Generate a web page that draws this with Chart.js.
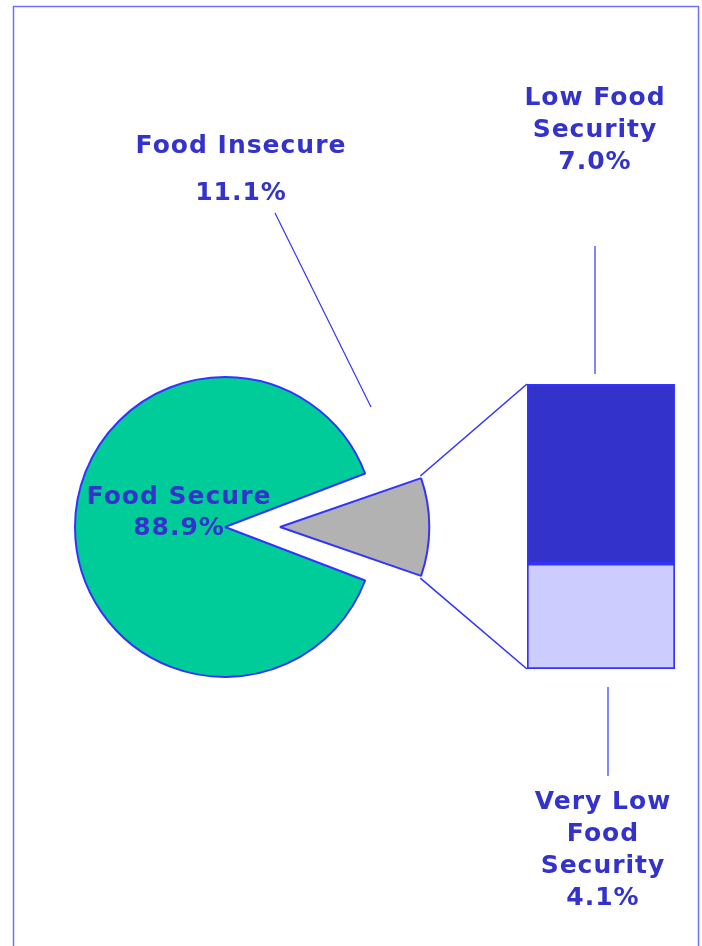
<!DOCTYPE html>
<html>
<head>
<meta charset="utf-8">
<script src="https://cdn.jsdelivr.net/npm/chart.js@4.4.1/dist/chart.umd.min.js"></script>
<style>
  body { margin: 0; background: #fff; }
  #wrap { position: relative; width: 702px; height: 946px; }
  #wrap canvas { position: absolute; left: 0; top: 0; }
</style>
</head>
<body>
<div id="wrap">
  <canvas id="pieChart" width="702" height="946"></canvas>
  <canvas id="barChart" width="702" height="946"></canvas>
</div>
<script>
const pieLabels = ['Food Secure', 'Food Insecure'];
const pieValues = [88.9, 11.1];
const pieColors = ['#00CC99', '#B2B2B2'];

const barLabels = ['Very Low Food Security', 'Low Food Security'];
const barValues = [4.1, 7.0];
const barColors = ['#CCCCFF', '#3333CC'];

const textColor = '#3333CC';
const lineColor = '#3333FF';
const font = "bold 25px 'DejaVu Sans', Verdana, sans-serif";

function pct(v) { return v.toFixed(1) + '%'; }

function drawLines(ctx, lines, x, y, step) {
    ctx.save();
    ctx.font = font;
    ctx.fillStyle = textColor;
    ctx.textAlign = 'center';
    ctx.textBaseline = 'middle';
    ctx.letterSpacing = '1px';
    lines.forEach((t, i) => ctx.fillText(t, x, y + i * step));
    ctx.restore();
}

function line(ctx, x1, y1, x2, y2, w) {
    ctx.save();
    ctx.strokeStyle = lineColor;
    ctx.lineWidth = w || 1;
    ctx.beginPath();
    ctx.moveTo(x1, y1);
    ctx.lineTo(x2, y2);
    ctx.stroke();
    ctx.restore();
}

const total = pieValues.reduce((a, b) => a + b, 0);
// turn the pie so the small slice points right
const rotation = 90 + pieValues[1] / total * 180;

const pieText = {
    id: 'pieText',
    afterDraw(chart) {
        const ctx = chart.ctx;
        drawLines(ctx, [pieLabels[0], pct(pieValues[0])], 179, 497, 31);
        drawLines(ctx, [pieLabels[1]], 241, 146, 0);
        drawLines(ctx, [pct(pieValues[1])], 241, 193, 0);
        line(ctx, 275, 213, 371, 407, 1.2);
    }
};

const pieChart = new Chart(document.getElementById('pieChart'), {
    type: 'pie',
    data: {
        labels: pieLabels,
        datasets: [{
            data: pieValues,
            backgroundColor: pieColors,
            borderColor: lineColor,
            borderWidth: 2,
            offset: [60, 160]
        }]
    },
    options: {
        responsive: false,
        animation: false,
        rotation: rotation,
        radius: 135,
        layout: { padding: { left: 10, right: 232, top: 300, bottom: 192 } },
        plugins: { legend: { display: false }, tooltip: { enabled: false } }
    },
    plugins: [pieText]
});

const barExtras = {
    id: 'barExtras',
    afterDraw(chart) {
        const ctx = chart.ctx;
        const top = chart.getDatasetMeta(1).data[0];
        const bottom = chart.getDatasetMeta(0).data[0];
        const left = top.x - top.width / 2;
        const cx = top.x;

        // connectors from the grey slice to the bar
        const arc = pieChart.getDatasetMeta(0).data[1];
        const off = (arc.options.offset || 0) / 4;
        const mid = (arc.startAngle + arc.endAngle) / 2;
        const circ = arc.endAngle - arc.startAngle;
        const r = arc.outerRadius + off * (1 - Math.sin(Math.min(Math.PI, circ)));
        const ax = arc.x + Math.cos(mid) * off;
        const ay = arc.y + Math.sin(mid) * off;
        line(ctx, ax + Math.cos(arc.startAngle) * r, ay + Math.sin(arc.startAngle) * r, left, top.y, 1.6);
        line(ctx, ax + Math.cos(arc.endAngle) * r, ay + Math.sin(arc.endAngle) * r, left, bottom.base, 1.6);

        // labels and leaders
        drawLines(ctx, ['Low Food', 'Security', pct(barValues[1])], cx - 6, 98, 32);
        line(ctx, cx - 6, 246, cx - 6, top.y - 10, 1.2);
        drawLines(ctx, ['Very Low', 'Food', 'Security', pct(barValues[0])], cx + 2, 802, 32);
        line(ctx, cx + 7, bottom.base + 18, cx + 7, 776, 1.2);

        // frame
        ctx.save();
        ctx.strokeStyle = '#7070FF';
        ctx.lineWidth = 1.5;
        ctx.strokeRect(13.5, 6.5, 685, 1000);
        ctx.restore();
    }
};

new Chart(document.getElementById('barChart'), {
    type: 'bar',
    data: {
        labels: [''],
        datasets: barLabels.map((l, i) => ({
            label: l,
            data: [barValues[i]],
            backgroundColor: barColors[i],
            borderColor: lineColor,
            borderWidth: 2,
            borderSkipped: false,
            barPercentage: 1,
            categoryPercentage: 1
        }))
    },
    options: {
        responsive: false,
        animation: false,
        layout: { padding: { left: 527, right: 27, top: 384, bottom: 277 } },
        scales: {
            x: { display: false, stacked: true },
            y: { display: false, stacked: true, min: 0, max: barValues[0] + barValues[1] }
        },
        plugins: { legend: { display: false }, tooltip: { enabled: false } }
    },
    plugins: [barExtras]
});
</script>
</body>
</html>
